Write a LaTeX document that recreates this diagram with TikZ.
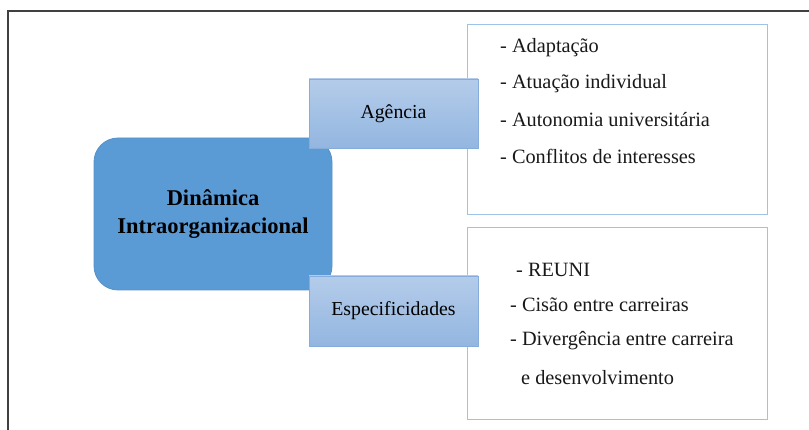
\documentclass[tikz,border=0pt]{standalone}
\usepackage{fontspec}
\setmainfont{Liberation Serif}
\usetikzlibrary{shadings}

\definecolor{mainblue}{HTML}{5B9BD5}
\definecolor{mainedge}{HTML}{5590C8}
\definecolor{lighttop}{HTML}{B4CCEA}
\definecolor{lightbot}{HTML}{93B6E0}
\definecolor{lightedge}{HTML}{85ACDB}
\definecolor{listedge}{HTML}{9DC3E6}

\tikzset{
  mainbox/.style={draw=mainedge, fill=mainblue, rounded corners=24pt, line width=0.8pt,
    minimum width=238pt, minimum height=152pt, align=center,
    font=\fontsize{22.5}{28}\selectfont\bfseries},
  tagbox/.style={draw=lightedge, top color=lighttop, bottom color=lightbot, line width=0.8pt,
    minimum width=169pt, minimum height=69pt, font=\fontsize{19.8}{22}\selectfont},
  listbox/.style={draw=listedge, fill=white, line width=1pt,
    minimum width=300pt, minimum height=190pt},
  item/.style={anchor=west, inner sep=0pt, text=black!90, font=\fontsize{20.3}{24}\selectfont}
}

\begin{document}
\begin{tikzpicture}[x=1pt,y=-1pt]
  \useasboundingbox (0,0) rectangle (809,430);
  % frame
  \draw[line width=1.2pt, black!75] (8,430) -- (8,11) -- (809,11);
  % lists on the right
  \node[listbox] (listag) at (617,120) {};
  \node[listbox, minimum height=191pt] (listesp) at (617,323.5) {};
  \foreach \t [count=\i] in {- Adaptação, - Atuação individual,
      - Autonomia universitária, - Conflitos de interesses}
    \node[item] (ag\i) at (500,12+36*\i) {\t};
  \foreach \x/\y/\t [count=\i] in {516/270/- REUNI, 510/305/- Cisão entre carreiras,
      510/341/- Divergência entre carreira, 521/378/e desenvolvimento}
    \node[item] (esp\i) at (\x,\y) {\t};
  % centre and labels
  \node[mainbox] (dinamica) at (213,214) {Dinâmica\\Intraorganizacional};
  \node[tagbox] (agencia) at (393.5,113.5) {Agência};
  \node[tagbox, minimum height=70pt] (especif) at (393.5,311) {Especificidades};
\end{tikzpicture}
\end{document}
